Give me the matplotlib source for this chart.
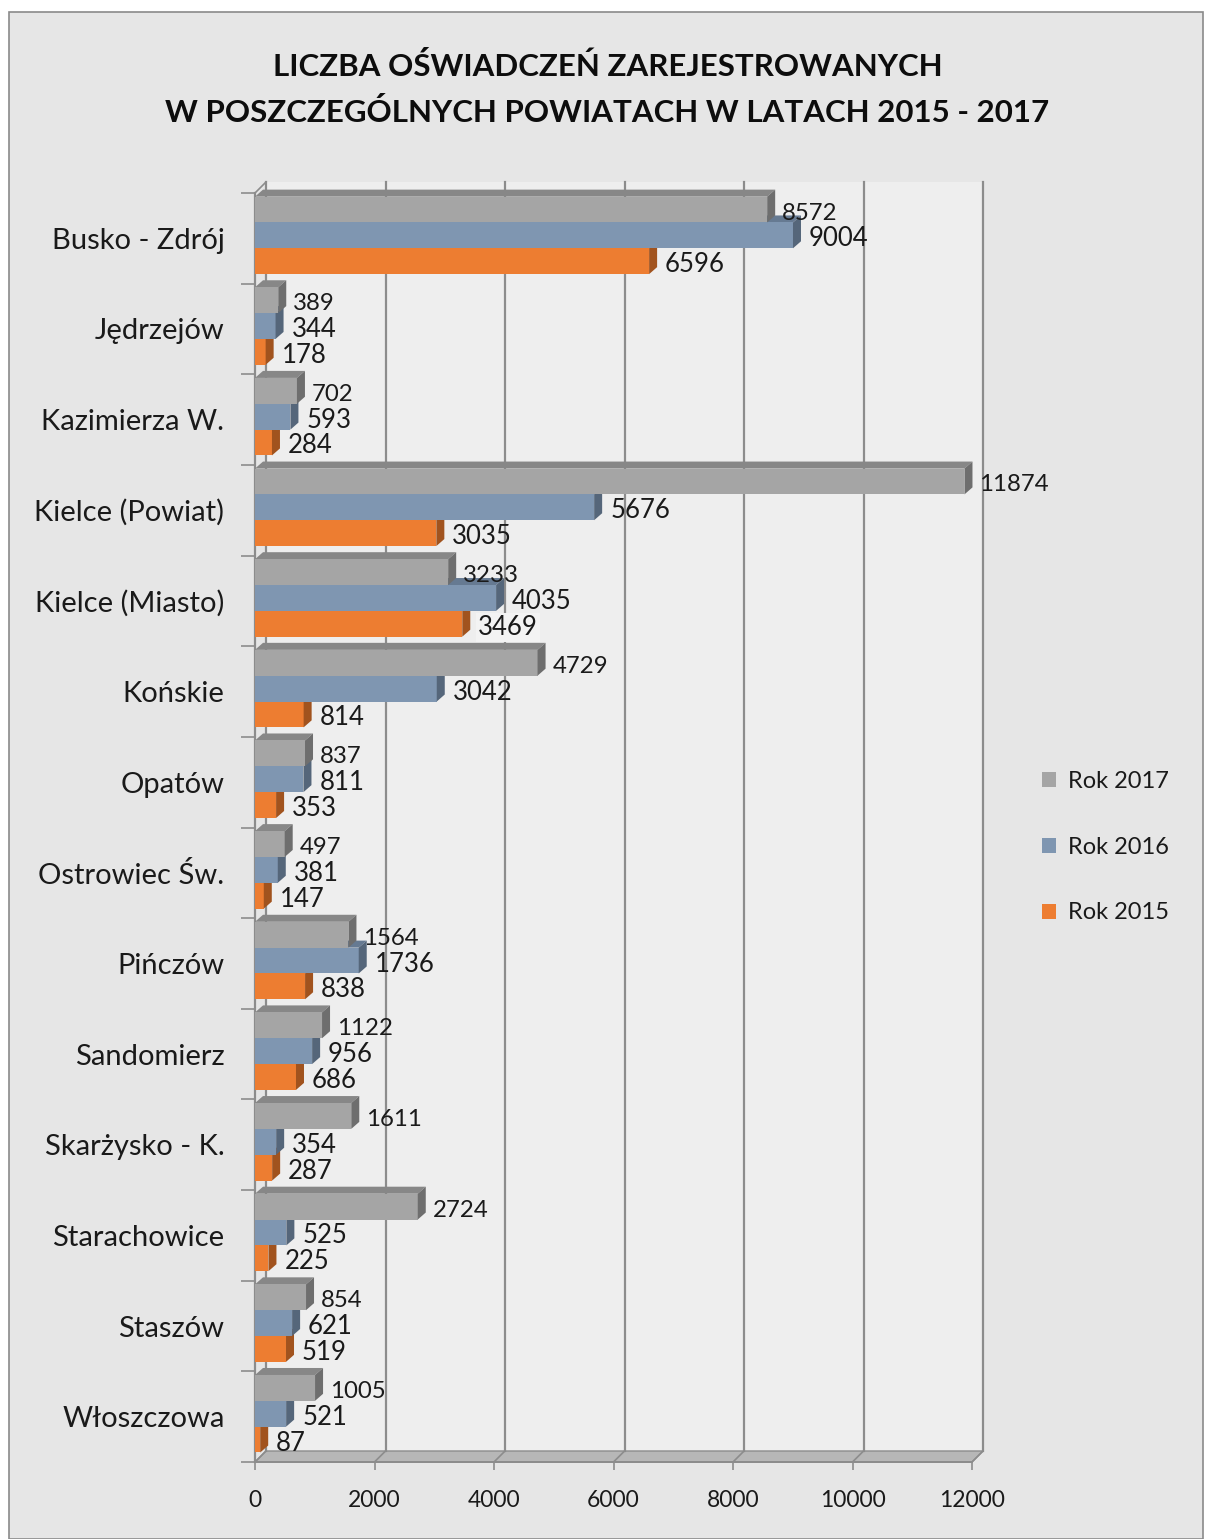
import matplotlib
matplotlib.use("Agg")
import matplotlib.pyplot as plt
from matplotlib.patches import Polygon, Rectangle, Patch
from matplotlib.lines import Line2D
import numpy as np

plt.rcParams['font.family'] = ['Lato', 'DejaVu Sans']

categories = ["Busko - Zdrój", "Jędrzejów", "Kazimierza W.", "Kielce (Powiat)",
              "Kielce (Miasto)", "Końskie", "Opatów", "Ostrowiec Św.", "Pińczów",
              "Sandomierz", "Skarżysko - K.", "Starachowice", "Staszów", "Włoszczowa"]
rok2017 = [8572, 389, 702, 11874, 3233, 4729, 837, 497, 1564, 1122, 1611, 2724, 854, 1005]
rok2016 = [9004, 344, 593, 5676, 4035, 3042, 811, 381, 1736, 956, 354, 525, 621, 521]
rok2015 = [6596, 178, 284, 3035, 3469, 814, 353, 147, 838, 686, 287, 225, 519, 87]
series_names = ["Rok 2017", "Rok 2016", "Rok 2015"]
xticks = [0, 2000, 4000, 6000, 8000, 10000, 12000]

title1 = "LICZBA OŚWIADCZEŃ ZAREJESTROWANYCH"
title2 = "W POSZCZEGÓLNYCH POWIATACH W LATACH 2015 - 2017"

FW, FH = 1205, 1539
fig = plt.figure(figsize=(FW / 100, FH / 100), dpi=100)
fig.patch.set_facecolor("white")

# outer chart frame
fig.patches.append(Rectangle((9 / FW, 0), (1203 - 9) / FW, 1 - 12 / FH,
                             transform=fig.transFigure, facecolor="#e6e6e6",
                             edgecolor="#8a8a8a", linewidth=1.2, zorder=-10))

x0, x1, y0, y1 = 255, 972, 193, 1462
ax = fig.add_axes([x0 / FW, 1 - y1 / FH, (x1 - x0) / FW, (y1 - y0) / FH])
ax.set_zorder(1)
ax.set_facecolor("none")
n = len(categories)
ax.set_xlim(0, 12000)
ax.set_ylim(n, 0)
for s in ax.spines.values():
    s.set_visible(False)

ux = 12000 / (x1 - x0)
uy = n / (y1 - y0)

# walls
dxw, dyw = 11 * ux, 11 * uy
back = Polygon([(dxw, -dyw), (12000 + dxw, -dyw), (12000 + dxw, n - dyw), (dxw, n - dyw)],
               closed=True, facecolor="#eeeeee", edgecolor="none", zorder=0.5, clip_on=False)
ax.add_patch(back)
floor = Polygon([(0, n), (12000, n), (12000 + dxw, n - dyw), (dxw, n - dyw)], closed=True,
                facecolor="#b7b7b7", edgecolor="#8c8c8c", linewidth=1.0, zorder=0.7, clip_on=False)
ax.add_patch(floor)
grid_c = "#8c8c8c"
for v in xticks:
    ax.add_line(Line2D([v + dxw, v + dxw], [-dyw, n - dyw], color=grid_c, lw=1.6, zorder=0.8, clip_on=False))
    ax.add_line(Line2D([v, v + dxw], [n, n - dyw], color=grid_c, lw=1.2, zorder=0.8, clip_on=False))
ax.add_line(Line2D([0, 0], [0, n], color="#8c8c8c", lw=1.6, zorder=0.9, clip_on=False))
ax.add_line(Line2D([0, dxw], [0, -dyw], color="#8c8c8c", lw=1.2, zorder=0.9, clip_on=False))
ax.add_line(Line2D([0, 12000], [n, n], color="#8c8c8c", lw=1.4, zorder=0.9, clip_on=False))

# bars
bar_h = 0.285
start = 0.04
colors = ["#a5a5a5", "#7f96b1", "#ed7d31"]
tops = ["#878787", "#667a92", "#c56426"]
sides = ["#6e6e6e", "#55667a", "#a1531e"]
label_sizes = [17.3, 18.5, 18.5]
label_gaps = [7, 8, 8]
dxb, dyb = 8 * ux, 7 * uy
series = [rok2017, rok2016, rok2015]
idx = np.arange(n)

for k in [2, 1, 0]:
    vals = series[k]
    centers = idx + start + k * bar_h + bar_h / 2
    z = 2 + (2 - k)
    ax.barh(centers, vals, height=bar_h, color=colors[k], edgecolor="none",
            zorder=z, label=series_names[k])
    for i, v in enumerate(vals):
        yt = centers[i] - bar_h / 2
        yb = centers[i] + bar_h / 2
        ax.add_patch(Polygon([(0, yt), (v, yt), (v + dxb, yt - dyb), (dxb, yt - dyb)], closed=True,
                             facecolor=tops[k], edgecolor="none", zorder=z - 0.5, clip_on=False))
        ax.add_patch(Polygon([(v, yt), (v + dxb, yt - dyb), (v + dxb, yb - dyb), (v, yb)], closed=True,
                             facecolor=sides[k], edgecolor="none", zorder=z + 0.1, clip_on=False))
        bbox = None
        if k == 2 and categories[i] == "Kielce (Miasto)":
            bbox = dict(facecolor="#f3f3f3", edgecolor="none", pad=1.5)
        ax.text(v + dxb + label_gaps[k] * ux, centers[i] + 3.5 * uy, f"{v}", ha="left", va="center",
                fontsize=label_sizes[k], color="#1a1a1a", zorder=10, bbox=bbox, clip_on=False)

# axes ticks
ax.set_yticks(np.arange(n + 1))
ax.set_yticklabels([])
ax.set_yticks(idx + 0.5, minor=True)
ax.set_yticklabels(categories, minor=True, fontsize=21, color="#1a1a1a")
ax.tick_params(axis="y", which="major", length=10, width=1.2, color="#8c8c8c")
ax.tick_params(axis="y", which="minor", length=0, pad=22)
ax.set_xticks(xticks)
ax.set_xticklabels([str(t) for t in xticks], fontsize=16.5, color="#1a1a1a")
ax.tick_params(axis="x", length=6, width=1.2, color="#8c8c8c", pad=14)

# title
fig.text(0.504, 1 - 66 / FH, title1, ha="center", va="center", fontsize=22.5,
         fontweight="bold", color="#0d0d0d")
fig.text(0.504, 1 - 112 / FH, title2, ha="center", va="center", fontsize=22.5,
         fontweight="bold", color="#0d0d0d")

# legend
handles = [Patch(facecolor=colors[k], edgecolor="none") for k in range(3)]
fig.legend(handles, series_names, loc="center left", bbox_to_anchor=(1021 / FW, 1 - 847 / FH),
           frameon=False, fontsize=17, handlelength=0.6, handleheight=0.6, handletextpad=0.5,
           labelspacing=1.9, labelcolor="#1a1a1a")

fig.savefig("out.png", dpi=100, facecolor="white")
